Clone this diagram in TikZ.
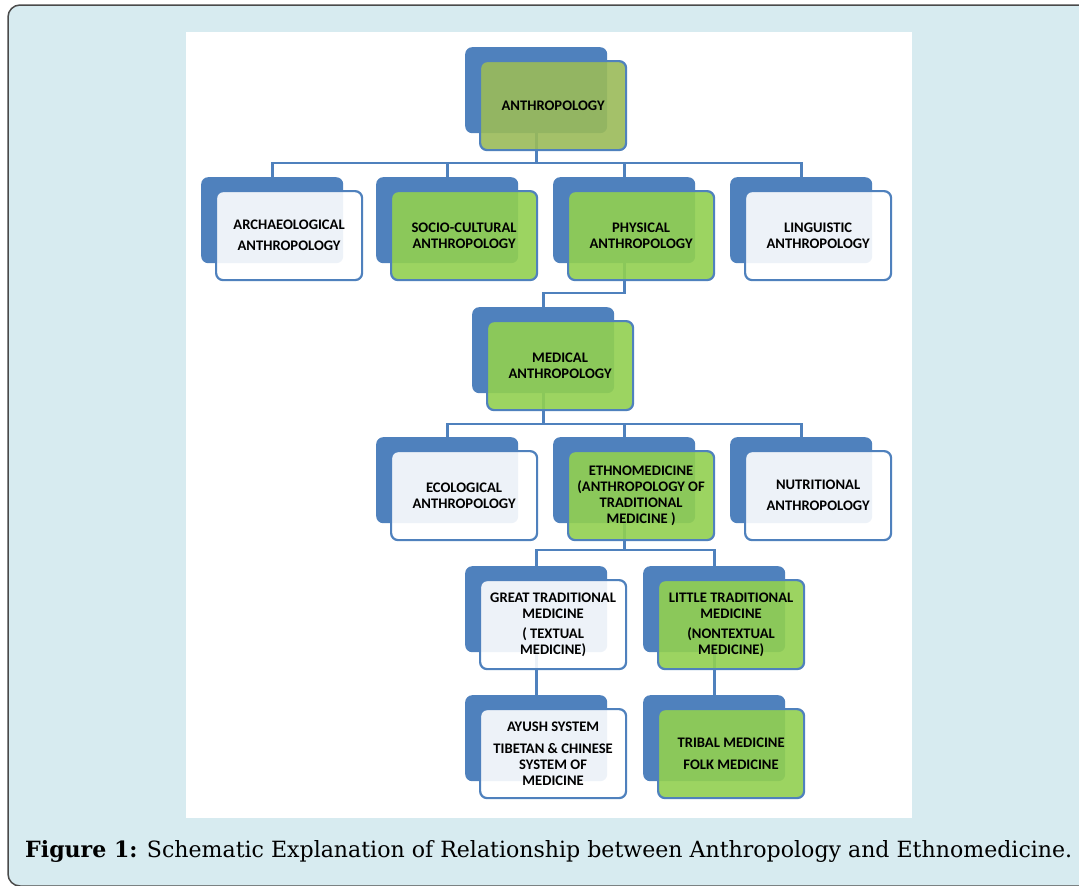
\documentclass[tikz,border=0pt]{standalone}
\usepackage{fontspec}
\usepackage{graphicx}
\setmainfont{Carlito}
\newfontfamily\capfont{DejaVu Serif}

\definecolor{pagebg}{HTML}{D7EBF0}
\definecolor{frameline}{HTML}{4A4A4A}
\definecolor{officeblue}{HTML}{4F81BD}
\definecolor{limegreen}{HTML}{92D050}
\definecolor{olivegreen}{HTML}{9BBB59}

\pgfdeclarelayer{paper}
\pgfdeclarelayer{links}
\pgfsetlayers{paper,links,main}

\tikzset{
  backbox/.style={fill=officeblue, rounded corners=7pt, minimum width=142pt,
    minimum height=86pt, anchor=north west, inner sep=0pt},
  frontbox/.style={draw=officeblue, line width=2.2pt, rounded corners=7pt,
    minimum width=146pt, minimum height=89pt, anchor=north west, inner sep=0pt,
    align=center, font=\fontsize{14.6}{16}\selectfont\bfseries, text=black,
    fill opacity=0.9, text opacity=1, xshift=14pt, yshift=-13pt},
  fillgreen/.style={fill=limegreen},
  fillolive/.style={fill=olivegreen},
  fillpale/.style={fill=white},
  conn/.style={draw=officeblue, line width=2.6pt},
}

% back plate + front card; #1 name, (#2,#3) top-left of the back plate
\newcommand\pairbox[5]{%
  \node[backbox] (#1b) at (#2,#3) {};
  \node[frontbox,#4] (#1) at (#2,#3) {#5};
}

\begin{document}
\begin{tikzpicture}[x=1pt,y=-1pt]
\useasboundingbox (0,0) rectangle (1079,886);

\begin{pgfonlayer}{paper}
  \fill[white] (0,0) rectangle (1079,886);
  \draw[frameline, line width=1.5pt, fill=pagebg, rounded corners=12pt]
    (8,5) rectangle (1100,886);
  \fill[white] (186,32) rectangle (912,818);
\end{pgfonlayer}

% top level
\pairbox{anth}{465}{47}{fillolive}{ANTHROPOLOGY}
% branches of anthropology
\pairbox{arch}{201}{177}{fillpale}{ARCHAEOLOGICAL\\[5pt]ANTHROPOLOGY}
\pairbox{socio}{376}{177}{fillgreen}{SOCIO-CULTURAL\\ANTHROPOLOGY}
\pairbox{phys}{553}{177}{fillgreen}{PHYSICAL\\ANTHROPOLOGY}
\pairbox{ling}{730}{177}{fillpale}{LINGUISTIC\\ANTHROPOLOGY}
% medical anthropology
\pairbox{med}{472}{307}{fillgreen}{MEDICAL\\ANTHROPOLOGY}
% branches of medical anthropology
\pairbox{eco}{376}{437}{fillpale}{ECOLOGICAL\\ANTHROPOLOGY}
\pairbox{ethno}{553}{437}{fillgreen}{ETHNOMEDICINE\\(ANTHROPOLOGY OF\\TRADITIONAL\\MEDICINE )}
\pairbox{nutr}{730}{437}{fillpale}{NUTRITIONAL\\[5pt]ANTHROPOLOGY}
% traditions
\pairbox{great}{465}{566}{fillpale}{GREAT TRADITIONAL\\MEDICINE\\[4pt]( TEXTUAL\\MEDICINE)}
\pairbox{little}{643}{566}{fillgreen}{LITTLE TRADITIONAL\\MEDICINE\\[4pt](NONTEXTUAL\\MEDICINE)}
% systems
\pairbox{ayush}{465}{695}{fillpale}{AYUSH SYSTEM\\[6pt]TIBETAN \& CHINESE\\SYSTEM OF\\MEDICINE}
\pairbox{tribal}{643}{695}{fillgreen}{TRIBAL MEDICINE\\[6pt]FOLK MEDICINE}

% connectors
\begin{pgfonlayer}{links}
  \foreach \c in {arch,socio,phys,ling}
    \draw[conn] (anthb.center) -- (anthb.center |- 0,163) -| (\c b.north);
  \draw[conn] (physb.center) -- (physb.center |- 0,293) -| (medb.north);
  \foreach \c in {eco,ethno,nutr}
    \draw[conn] (medb.center) -- (medb.center |- 0,424) -| (\c b.north);
  \foreach \c in {great,little}
    \draw[conn] (ethnob.center) -- (ethnob.center |- 0,550) -| (\c b.north);
  \draw[conn] (greatb.center) -- (ayushb.north);
  \draw[conn] (littleb.center) -- (tribalb.north);
\end{pgfonlayer}

% caption
\node[anchor=base west, inner sep=0pt] (cap) at (25,857)
  {\resizebox{1047pt}{17pt}{\capfont\fontsize{20}{24}\selectfont
   \textbf{Figure 1:} Schematic Explanation of Relationship between Anthropology and Ethnomedicine.}};
\end{tikzpicture}
\end{document}
